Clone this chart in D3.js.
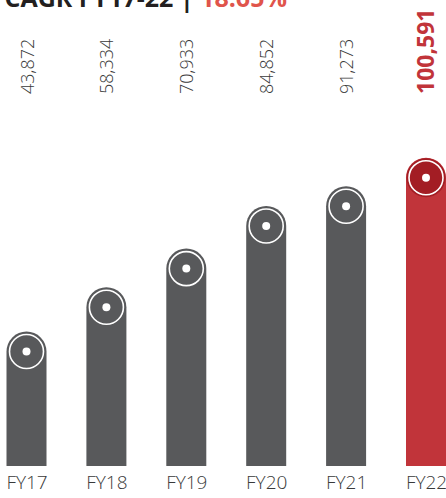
<!DOCTYPE html>
<html>
<head>
<meta charset="utf-8">
<script src="https://cdn.jsdelivr.net/npm/d3@7"></script>
<style>
  body { margin: 0; background: #fff; }
  svg { display: block; }
</style>
</head>
<body>
<svg id="chart"></svg>
<script>
var categories = ["FY17", "FY18", "FY19", "FY20", "FY21", "FY22"]
var values = [43872, 58334, 70933, 84852, 91273, 100591]
var valueLabels = ["43,872", "58,334", "70,933", "84,852", "91,273", "100,591"]
var titleMain = "CAGR FY17-22 | "
var titleValue = "18.65%"

var dimensions = {
  width: 446,
  height: 498,
  base: 466,
  barWidth: 40
}

var grey = "#58595b"
var red = "#c1343a"
var darkRed = "#a31d24"
var lightFont = "'Open Sans Light', 'Lato Light', 'Roboto Light', 'Open Sans', sans-serif"

var svg = d3.select("#chart")
  .attr("width", dimensions.width)
  .attr("height", dimensions.height)
  .style("font-family", "'Open Sans', sans-serif")

// title, cut off at the top like the original
var title = svg.append("text")
  .attr("x", 287)
  .attr("y", 7)
  .attr("text-anchor", "end")
  .style("font-size", "25px")
  .style("font-weight", "700")
title.append("tspan").text(titleMain).attr("fill", "#231f20")
title.append("tspan").text(titleValue).attr("fill", "#e0544b")

var x = d3.scalePoint()
  .domain(categories)
  .range([26.5, 426])

var y = d3.scaleLinear()
  .domain([0, 100000])
  .range([dimensions.base, dimensions.base - 306.5])

var r = dimensions.barWidth / 2
var data = categories.map(function(c, i) {
  return { cat: c, value: values[i], label: valueLabels[i], last: i === categories.length - 1 }
})

var bars = svg.append("g")
  .selectAll("g")
  .data(data)
  .enter()
  .append("g")
  .attr("transform", function(d) { return "translate(" + x(d.cat) + ",0)" })

// bar body with rounded top
bars.append("path")
  .attr("fill", function(d) { return d.last ? red : grey })
  .attr("d", function(d) {
    var top = y(d.value)
    return "M" + (-r) + "," + dimensions.base +
      "V" + (top + r) +
      "A" + r + "," + r + " 0 0 1 " + r + "," + (top + r) +
      "V" + dimensions.base + "Z"
  })

// darker cap for the highlighted bar
bars.filter(function(d) { return d.last })
  .append("circle")
  .attr("cy", function(d) { return y(d.value) + r })
  .attr("r", r - 0.5)
  .attr("fill", darkRed)

// white ring
bars.append("circle")
  .attr("cy", function(d) { return y(d.value) + r })
  .attr("r", 17)
  .attr("fill", "none")
  .attr("stroke", "#fff")
  .attr("stroke-width", 1.6)

// white dot
bars.append("circle")
  .attr("cy", function(d) { return y(d.value) + r })
  .attr("r", 4)
  .attr("fill", "#fff")

// value labels, rotated
bars.append("text")
  .text(function(d) { return d.label })
  .attr("transform", function(d) { return d.last ? "translate(8,94) rotate(-90)" : "translate(7,94) rotate(-90)" })
  .attr("text-anchor", "start")
  .attr("fill", function(d) { return d.last ? red : "#3a3a3a" })
  .style("font-family", function(d) { return d.last ? "'Open Sans', sans-serif" : lightFont })
  .style("font-size", function(d) { return d.last ? "23px" : "18px" })
  .style("font-weight", function(d) { return d.last ? "700" : "300" })

// category axis
var xAxis = svg.append("g")
  .attr("transform", "translate(0," + dimensions.base + ")")
  .call(d3.axisBottom(x).tickSize(0).tickPadding(10))
xAxis.select(".domain").remove()
xAxis.selectAll("text")
  .attr("fill", "#3a3a3a")
  .style("font-family", lightFont)
  .style("font-size", "19px")
  .style("font-weight", "300")
</script>
</body>
</html>
